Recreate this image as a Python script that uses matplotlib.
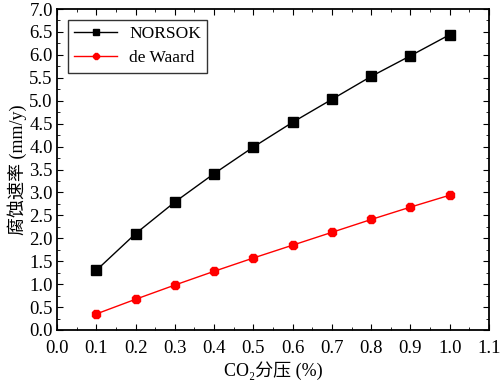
import numpy as np
import matplotlib
matplotlib.use('Agg')
import matplotlib.pyplot as plt
from matplotlib.ticker import MultipleLocator

co2 = [0.1, 0.2, 0.3, 0.4, 0.5, 0.6, 0.7, 0.8, 0.9, 1.0]
norsok = [1.30, 2.10, 2.79, 3.41, 3.99, 4.53, 5.03, 5.53, 5.98, 6.44]
de_waard = [0.35, 0.67, 0.98, 1.28, 1.57, 1.85, 2.13, 2.41, 2.68, 2.94]

plt.rcParams['font.family'] = ['Liberation Serif', 'Noto Sans CJK SC', 'DejaVu Serif']
plt.rcParams['font.size'] = 13.5

fig = plt.figure(figsize=(5.01, 3.82), dpi=100)
ax = fig.add_axes([57 / 501, 1 - 330 / 382, 432 / 501, 321 / 382])

ax.plot(co2, norsok, color='black', lw=1, marker='s', ms=6.5, label='NORSOK')
ax.plot(co2, de_waard, color='red', lw=1, marker='8', ms=6.5, label='de Waard')

ax.set_xlim(0, 1.1)
ax.set_ylim(0, 7)
ax.xaxis.set_major_locator(MultipleLocator(0.1))
ax.xaxis.set_minor_locator(MultipleLocator(0.05))
ax.yaxis.set_major_locator(MultipleLocator(0.5))
ax.yaxis.set_minor_locator(MultipleLocator(0.25))
ax.xaxis.set_major_formatter(plt.FuncFormatter(lambda v, p: '%.1f' % v))
ax.yaxis.set_major_formatter(plt.FuncFormatter(lambda v, p: '%.1f' % v))
ax.tick_params(which='both', direction='in', top=True, right=True, labelsize=13.5)
ax.tick_params(which='major', length=4)
ax.tick_params(which='minor', length=2)
ax.tick_params(axis='x', pad=7)
ax.tick_params(axis='y', pad=3)
for s in ax.spines.values():
    s.set_linewidth(1.3)

ax.set_xlabel('CO₂分压 (%)', fontsize=13, labelpad=3)
ax.set_ylabel('腐蚀速率 (mm/y)', fontsize=13, labelpad=2)

leg = ax.legend(loc='upper left', bbox_to_anchor=(0.025, 0.965), fancybox=False,
                edgecolor='black', fontsize=12.5, handlelength=2.5, borderpad=0.35,
                labelspacing=0.45, markerscale=0.6, handletextpad=0.7,
                borderaxespad=0.0)
leg.get_frame().set_linewidth(1.0)

fig.savefig('out.png', dpi=100)
